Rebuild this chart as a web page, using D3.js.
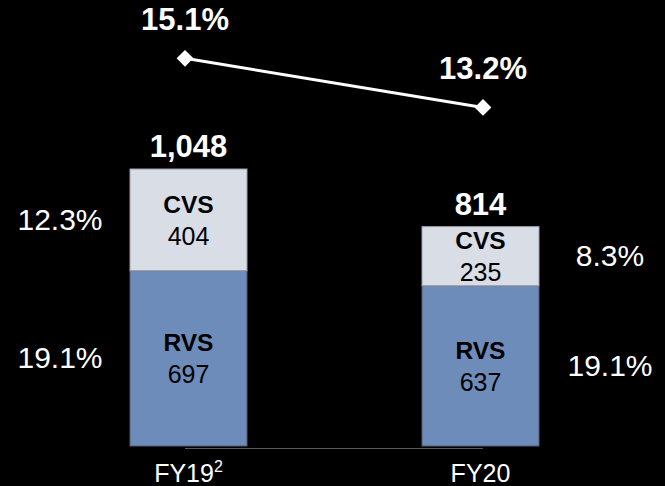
<!DOCTYPE html>
<html>
<head>
<meta charset="utf-8">
<script src="https://cdn.jsdelivr.net/npm/d3@7"></script>
<style>
  html, body { margin: 0; padding: 0; background: #000; }
  svg { display: block; }
  text { font-family: "Liberation Sans", Arial, sans-serif; }
</style>
</head>
<body>
<svg id="chart" width="665" height="486"></svg>
<script>
// Segment revenues by fiscal year
const categories = ["FY19", "FY20"];
const rvsValues = [697, 637];
const cvsValues = [404, 235];
const totalLabels = ["1,048", "814"];
// Segment margins shown beside each bar
const rvsMargins = ["19.1%", "19.1%"];
const cvsMargins = ["12.3%", "8.3%"];
// Overall margin line
const marginValues = [15.1, 13.2];
const marginLabels = ["15.1%", "13.2%"];

const svg = d3.select("#chart");
const W = 665, H = 486;

svg.append("rect").attr("width", W).attr("height", H).attr("fill", "#000");

const barW = 117;
const xb = d3.scalePoint().domain(categories).range([188.5, 480.5]);
const xl = d3.scalePoint().domain(categories).range([185, 483]);

const y = d3.scaleLinear().domain([0, 1101]).range([446, 169]);
const yl = d3.scaleLinear().domain([0, 15.1]).range([449, 58.3]);

const rows = categories.map((c, i) => ({
  cat: c, rvs: rvsValues[i], cvs: cvsValues[i], total: totalLabels[i],
  rvsM: rvsMargins[i], cvsM: cvsMargins[i], m: marginValues[i], mLabel: marginLabels[i], i
}));

// axis baseline between the two categories
svg.append("line")
  .attr("x1", xl(categories[0])).attr("x2", xl(categories[1]))
  .attr("y1", 448.5).attr("y2", 448.5)
  .attr("stroke", "#5a5a5a").attr("stroke-width", 1.2);

const g = svg.append("g");
rows.forEach(r => {
  const xc = xb(r.cat), x0 = xc - barW / 2;
  const yR = y(r.rvs), yC = y(r.rvs + r.cvs);
  // RVS segment
  g.append("rect").attr("x", x0).attr("y", yR).attr("width", barW).attr("height", y(0) - yR)
    .attr("fill", "#6e8cb9").attr("stroke", "#4f5d75").attr("stroke-width", 1);
  // CVS segment
  g.append("rect").attr("x", x0).attr("y", yC).attr("width", barW).attr("height", yR - yC)
    .attr("fill", "#d9dde6").attr("stroke", "#9a9fa8").attr("stroke-width", 1);

  const midR = (yR + y(0)) / 2, midC = (yC + yR) / 2;
  [[midR, "RVS", r.rvs], [midC, "CVS", r.cvs]].forEach(([m, name, v]) => {
    g.append("text").attr("x", xc).attr("y", m - 7).attr("text-anchor", "middle")
      .attr("font-size", 24.5).attr("font-weight", "bold").attr("fill", "#000").text(name);
    g.append("text").attr("x", xc).attr("y", m + 25).attr("text-anchor", "middle")
      .attr("font-size", 25).attr("fill", "#000").text(v);
  });

  // total above bar
  g.append("text").attr("x", xc).attr("y", yC - 12).attr("text-anchor", "middle")
    .attr("font-size", 31).attr("font-weight", "bold").attr("fill", "#fff").text(r.total);

  // margin labels beside the bar
  const sx = r.i === 0 ? x0 - 70 : x0 + barW + 71;
  g.append("text").attr("x", sx).attr("y", midC + 10).attr("text-anchor", "middle")
    .attr("font-size", 30).attr("fill", "#fff").text(r.cvsM);
  g.append("text").attr("x", sx).attr("y", midR + 10).attr("text-anchor", "middle")
    .attr("font-size", 30).attr("fill", "#fff").text(r.rvsM);
});

// category labels
rows.forEach(r => {
  const t = svg.append("text").attr("x", xb(r.cat)).attr("y", 482).attr("text-anchor", "middle")
    .attr("font-size", 25).attr("fill", "#fff");
  t.append("tspan").text(r.cat);
  if (r.i === 0) t.append("tspan").attr("font-size", 16).attr("dy", -10).text("2");
});

// margin line
const line = d3.line().x(d => xl(d.cat)).y(d => yl(d.m));
svg.append("path").datum(rows).attr("d", line)
  .attr("fill", "none").attr("stroke", "#fff").attr("stroke-width", 3);
svg.selectAll(".mk").data(rows).join("path")
  .attr("transform", d => `translate(${xl(d.cat)},${yl(d.m)})`)
  .attr("d", d3.symbol(d3.symbolDiamond2, 180)())
  .attr("fill", "#fff");
svg.selectAll(".ml").data(rows).join("text")
  .attr("x", d => xl(d.cat)).attr("y", d => yl(d.m) - 28.5)
  .attr("text-anchor", "middle").attr("font-size", 31).attr("font-weight", "bold")
  .attr("fill", "#fff").text(d => d.mLabel);
</script>
</body>
</html>
